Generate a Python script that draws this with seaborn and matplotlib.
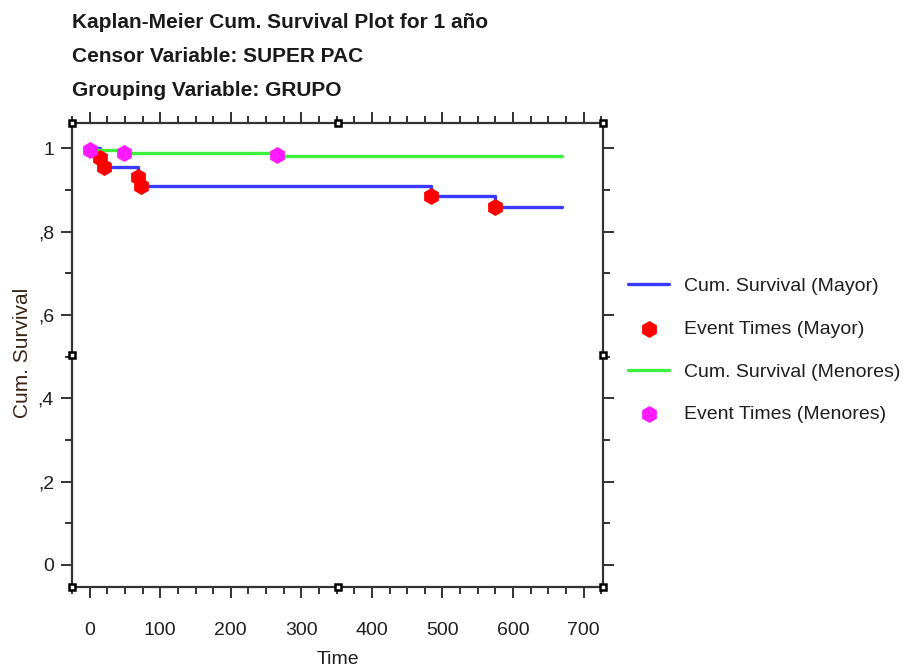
import matplotlib
matplotlib.use("Agg")
import matplotlib.pyplot as plt
import matplotlib.ticker as mticker
import seaborn as sns
import pandas as pd

# ---- data ----
mayor_time = [0, 14, 21, 68, 73, 484, 574, 670]
mayor_surv = [1.0, 0.977, 0.955, 0.932, 0.909, 0.886, 0.858, 0.858]
mayor_event_time = [14, 21, 68, 73, 484, 574]
mayor_event_surv = [0.977, 0.955, 0.932, 0.909, 0.886, 0.858]

menores_time = [0, 48, 265, 670]
menores_surv = [0.995, 0.989, 0.982, 0.982]
menores_event_time = [0, 48, 265]
menores_event_surv = [0.995, 0.989, 0.983]

title_lines = ["Kaplan-Meier Cum. Survival Plot for 1 año",
               "Censor Variable: SUPER PAC",
               "Grouping Variable: GRUPO"]
legend_labels = ["Cum. Survival (Mayor)", "Event Times (Mayor)",
                 "Cum. Survival (Menores)", "Event Times (Menores)"]
x_ticks = [0, 100, 200, 300, 400, 500, 600, 700]
y_ticks = [0, 0.2, 0.4, 0.6, 0.8, 1.0]

sns.set_style("ticks")
fam = ["Liberation Sans", "DejaVu Sans"]
plt.rcParams["font.family"] = fam

fig = plt.figure(figsize=(9.2, 6.69), dpi=100)
ax = fig.add_axes([0.0783, 0.1226, 0.5775, 0.6931])

df_mayor = pd.DataFrame({"Time": mayor_time, "S": mayor_surv})
df_men = pd.DataFrame({"Time": menores_time, "S": menores_surv})
ev_mayor = pd.DataFrame({"Time": mayor_event_time, "S": mayor_event_surv})
ev_men = pd.DataFrame({"Time": menores_event_time, "S": menores_event_surv})

blue = "#3a3aff"
green = "#3ef03e"
red = "#ff0000"
pink = "#ff1aff"

sns.lineplot(data=df_mayor, x="Time", y="S", ax=ax, color=blue, lw=2.4,
             drawstyle="steps-post", estimator=None, label=legend_labels[0], zorder=2)
sns.lineplot(data=df_men, x="Time", y="S", ax=ax, color=green, lw=2.4,
             drawstyle="steps-post", estimator=None, label=legend_labels[2], zorder=2)
sns.scatterplot(data=ev_mayor, x="Time", y="S", ax=ax, color=red, marker="h",
                s=150, linewidth=0, label=legend_labels[1], zorder=3)
sns.scatterplot(data=ev_men, x="Time", y="S", ax=ax, color=pink, marker="h",
                s=150, linewidth=0, label=legend_labels[3], zorder=3)

ax.set_xlim(-25, 728)
ax.set_ylim(-0.053, 1.06)

ax.set_xticks(x_ticks)
ax.xaxis.set_minor_locator(mticker.MultipleLocator(25))
ax.set_yticks(y_ticks)
ax.yaxis.set_minor_locator(mticker.MultipleLocator(0.1))


def yfmt(v, pos):
    if abs(v) < 1e-9:
        return "0"
    if abs(v - 1) < 1e-9:
        return "1"
    return "," + f"{v:.1f}".split(".")[1]


ax.yaxis.set_major_formatter(mticker.FuncFormatter(yfmt))
ax.tick_params(which="both", direction="out", top=True, right=True,
               color="#222222", width=1.3)
ax.tick_params(which="major", length=8, labelsize=14, labelcolor="#1e1e1e")
ax.tick_params(axis="y", which="major", pad=5)
ax.tick_params(axis="x", which="major", pad=17)
ax.tick_params(which="minor", length=5)
for sp in ax.spines.values():
    sp.set_linewidth(1.6)
    sp.set_color("#333333")

ax.set_xlabel("Time", fontsize=14, color="#1e1e1e")
ax.xaxis.set_label_coords((338 - 72) / 531, -(651 - 587) / 464)
ax.set_ylabel("Cum. Survival", fontsize=15, color="#3a2418")
ax.yaxis.set_label_coords(-(72 - 32) / 531, (587 - 353) / 464)

# selection handles at corners and mid-points of the frame
hx = [0, 0.5, 1, 1, 1, 0.5, 0, 0]
hy = [0, 0, 0, 0.5, 1, 1, 1, 0.5]
ax.plot(hx, hy, ls="none", marker="s", ms=5, mfc="white", mec="black", mew=1.8,
        transform=ax.transAxes, clip_on=False, zorder=5)

h, l = ax.get_legend_handles_labels()
hmap = dict(zip(l, h))
leg = ax.legend([hmap[x] for x in legend_labels], legend_labels,
                loc="upper left", bbox_to_anchor=((628 - 72) / 531, (587 - 277) / 464),
                frameon=False, fontsize=14, handlelength=2.1, labelspacing=1.3,
                handletextpad=0.75, borderaxespad=0, borderpad=0)
for t in leg.get_texts():
    t.set_color("#1e1e1e")

for i, line in enumerate(title_lines):
    fig.text(0.078, 1 - (22 + 34 * i) / 669, line, fontsize=15, fontweight="bold",
             ha="left", va="center", color="#1a1a1a")

fig.savefig("out.png", dpi=100)
